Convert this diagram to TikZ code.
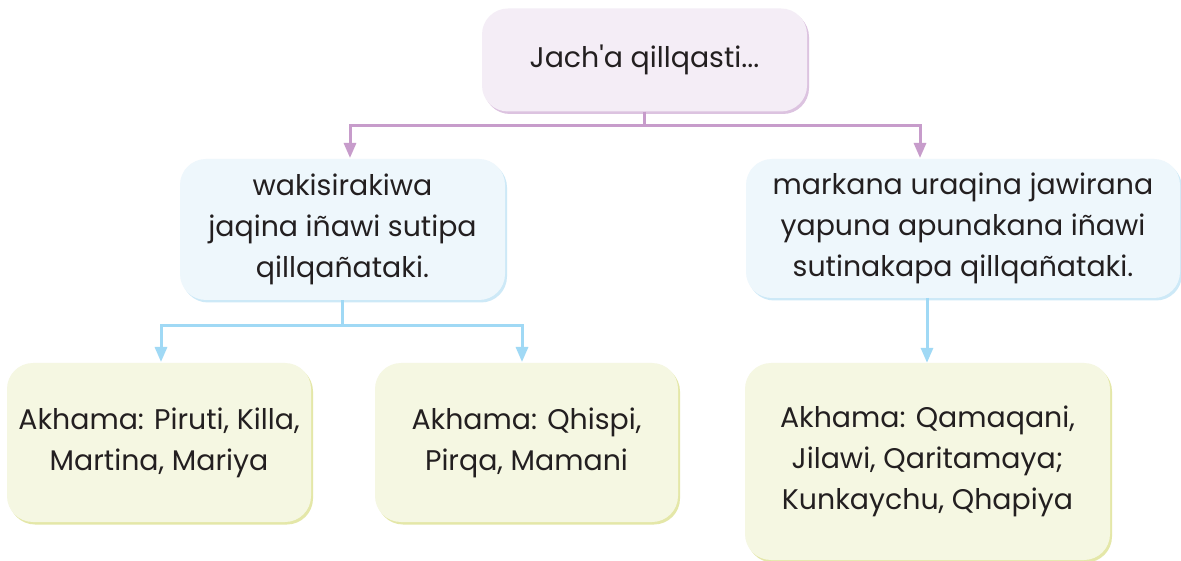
\documentclass[tikz,border=0pt]{standalone}
\usepackage{fontspec}
\setmainfont{Poppins}
\usetikzlibrary{arrows.meta,shadows,calc}
\definecolor{txt}{HTML}{231F20}
\definecolor{purpfill}{HTML}{F4EDF6}
\definecolor{purpsh}{HTML}{DCC3E0}
\definecolor{purpline}{HTML}{C79CCB}
\definecolor{bluefill}{HTML}{EEF7FC}
\definecolor{bluesh}{HTML}{CDE9F7}
\definecolor{blueline}{HTML}{A0D9F5}
\definecolor{yelfill}{HTML}{F5F7E2}
\definecolor{yelsh}{HTML}{E4E7A8}
\tikzset{
  box/.style={rounded corners=26pt, inner sep=0pt, align=center, text=txt,
    font=\fontsize{28.4}{41}\selectfont},
  topbox/.style={box, fill=purpfill, drop shadow={shadow xshift=2pt, shadow yshift=-2.5pt, fill=purpsh, opacity=1}},
  midbox/.style={box, fill=bluefill, drop shadow={shadow xshift=2pt, shadow yshift=-2.5pt, fill=bluesh, opacity=1}},
  botbox/.style={box, fill=yelfill, drop shadow={shadow xshift=2pt, shadow yshift=-2.5pt, fill=yelsh, opacity=1}},
  pline/.style={draw=purpline, line width=3pt},
  bline/.style={draw=blueline, line width=3pt},
  ptip/.style={-{Triangle[width=12pt,length=15pt,fill=purpline]}},
  btip/.style={-{Triangle[width=12pt,length=15pt,fill=blueline]}},
}
\begin{document}
\begin{tikzpicture}[x=1pt,y=-1pt]
\useasboundingbox (0,0) rectangle (1181,561);
\fill[white] (0,0) rectangle (1181,561);
\node[topbox, minimum width=325pt, minimum height=103pt] (top) at (644.5,60) {Jach\textquotesingle a qillqasti...};
\node[midbox, minimum width=325pt, minimum height=141pt] (mL) at (342.5,229.5) {wakisirakiwa\\jaqina iñawi sutipa\\qillqañataki.};
\node[midbox, minimum width=434pt, minimum height=139pt] (mR) at (963,228.5) {markana uraqina jawirana\\yapuna apunakana iñawi\\sutinakapa qillqañataki.};
\node[botbox, minimum width=304pt, minimum height=159pt] (bL) at (159,442.5) {Akhama: Piruti, Killa,\\Martina, Mariya};
\node[botbox, minimum width=303pt, minimum height=159pt] (bM) at (526.5,442.5) {Akhama: Qhispi,\\Pirqa, Mamani};
\node[botbox, minimum width=365pt, minimum height=197pt] (bR) at (927.5,461.5) {Akhama: Qamaqani,\\Jilawi, Qaritamaya;\\Kunkaychu, Qhapiya};
\coordinate (aL) at (350,158);
\coordinate (aR) at (920,158);
\coordinate (cL) at (161,362);
\coordinate (cM) at (522,362);
\coordinate (sR) at (927,298);
\draw[pline] (top.south) -- ++(0,14) coordinate (pj);
\draw[pline, ptip] (pj) -| (aL);
\draw[pline, ptip] (pj) -| (aR);
\draw[bline] (mL.south) -- ++(0,25) coordinate (bj);
\draw[bline, btip] (bj) -| (cL);
\draw[bline, btip] (bj) -| (cM);
\draw[bline, btip] (sR) -- (bR.north -| sR);
\end{tikzpicture}
\end{document}
